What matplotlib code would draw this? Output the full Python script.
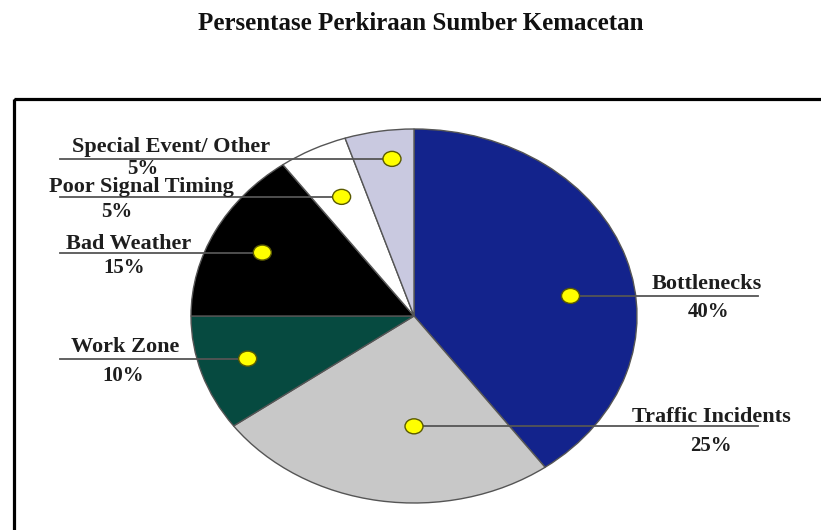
import numpy as np
import matplotlib
matplotlib.use('Agg')
from matplotlib import pyplot as plt
from matplotlib.patches import Ellipse, Rectangle

# data
categories = ['Bottlenecks', 'Traffic Incidents', 'Work Zone', 'Bad Weather',
              'Poor Signal Timing', 'Special Event/ Other']
percent = [40, 25, 10, 15, 5, 5]
colors = ['#13238C', '#C8C8C8', '#064A40', '#000000', '#FFFFFF', '#C9C9E0']

plt.rcParams['font.family'] = ['Liberation Serif', 'DejaVu Serif']

W, H = 821, 530
fig = plt.figure(figsize=(W / 100, H / 100), dpi=100)

# pie axes sits on the (stretched) pie bounding box
cx, cy, rx, ry = 414, 316, 223, 187
pie_ax = fig.add_axes([(cx - rx) / W, (H - cy - ry) / H, 2 * rx / W, 2 * ry / H])
wedges, _ = pie_ax.pie(percent, colors=colors, startangle=90, counterclock=False,
                       wedgeprops=dict(edgecolor='#555555', linewidth=1))
pie_ax.set_aspect('auto')
pie_ax.set_xlim(-1, 1)
pie_ax.set_ylim(-1, 1)
pie_ax.axis('off')

# overlay in pixel coords for title, box, leaders and labels
ov = fig.add_axes([0, 0, 1, 1], zorder=5)
ov.set_xlim(0, W)
ov.set_ylim(H, 0)
ov.axis('off')
ov.patch.set_alpha(0)

ov.text(421, 24, 'Persentase Perkiraan Sumber Kemacetan', ha='center', va='center',
        fontsize=18, fontweight='bold', color='#111111')
ov.add_patch(Rectangle((13.5, 98.5), 900, 600, fill=False, edgecolor='black', linewidth=2.3))

# label layout: side, name x, pct x, dot angle nudge (deg), dot radius, name gap, pct gap
layout = {
    'Bottlenecks':          ('R', 707, 709, -9.3, 0.71, 7, 16),
    'Traffic Incidents':    ('R', 711, 711, 9.0, 0.59, 4, 20),
    'Work Zone':            ('L', 125, 123, -1.0, 0.78, 7, 17),
    'Bad Weather':          ('L', 129, 124, 0.5, 0.76, 4, 15),
    'Poor Signal Timing':   ('L', 141, 117, 0.0, 0.715, 5, 15),
    'Special Event/ Other': ('L', 171, 143, -2.3, 0.846, 7, 10),
}

for w, name, p in zip(wedges, categories, percent):
    side, nx, px, nudge, r, ngap, pgap = layout[name]
    a = np.deg2rad((w.theta1 + w.theta2) / 2 + nudge)
    dx, dy = pie_ax.transData.transform((r * np.cos(a), r * np.sin(a)))
    dy = H - dy
    if side == 'L':
        ov.plot([60, dx], [dy, dy], color='#555555', lw=1.3)
    else:
        ov.plot([dx, 758], [dy, dy], color='#555555', lw=1.3)
    ov.add_patch(Ellipse((dx, dy), 18, 15, facecolor='#FFFF00', edgecolor='#5A5A00',
                         linewidth=1, zorder=6))
    ov.text(nx, dy - ngap, name, ha='center', va='baseline', fontsize=16, fontweight='bold',
            color='#1E1E1E')
    ov.text(px, dy + pgap, f'{p}%', ha='center', va='center', fontsize=15, fontweight='bold',
            color='#1E1E1E')

fig.savefig('out.png', dpi=100)
